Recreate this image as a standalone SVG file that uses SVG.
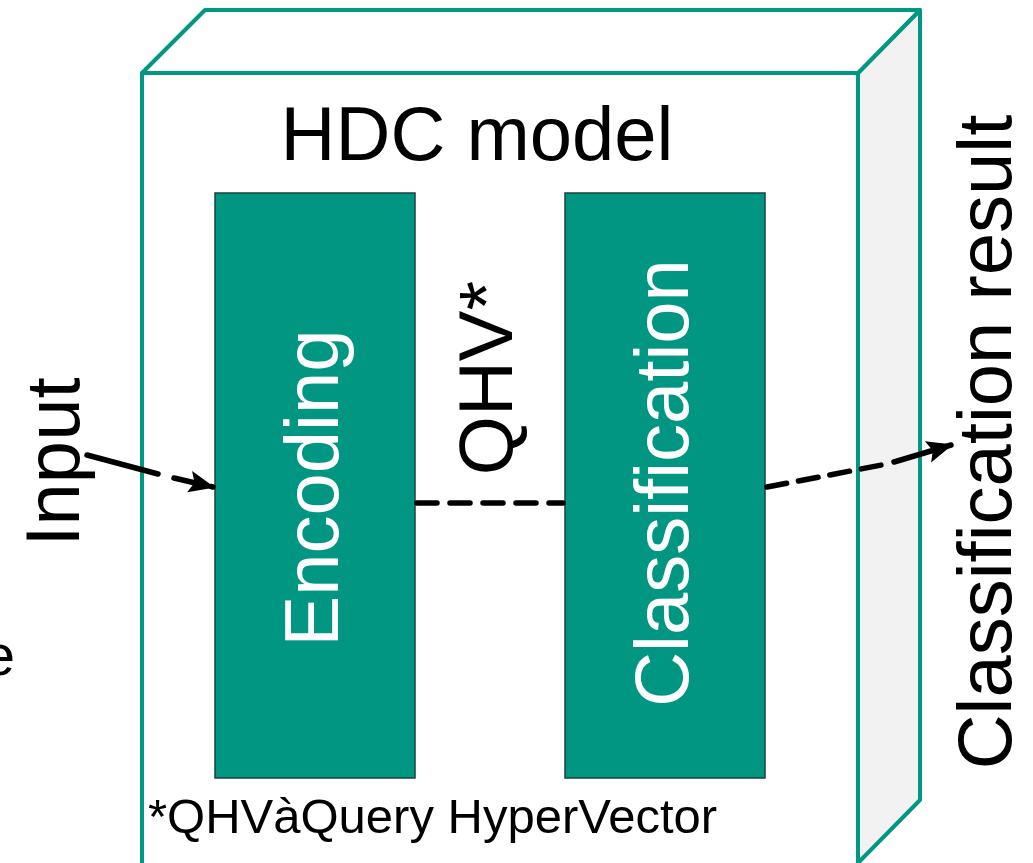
<svg xmlns="http://www.w3.org/2000/svg" width="1033" height="863" viewBox="0 0 1033 863">
<style>
text{font-family:"Liberation Sans",Arial,sans-serif;}
.edge{fill:none;stroke:#009882;stroke-width:4;stroke-linejoin:round;}
.side{fill:#f2f2f2;}
.top{fill:#fff;}
.blk{fill:#009682;stroke:#17433d;stroke-width:1.5;}
.lbl{fill:#000;font-size:76px;}
.wlbl{fill:#fff;font-size:76px;}
.conn{fill:none;stroke:#000;stroke-width:5.5;stroke-linecap:round;}
</style>
<defs>
<marker id="arr" viewBox="0 0 26 26" refX="24" refY="13" markerWidth="26" markerHeight="26" orient="auto" markerUnits="userSpaceOnUse">
<path d="M0,2 L26,13 L0,24 L5,13 Z" fill="#000"/>
</marker>
</defs>
<rect width="1033" height="863" fill="#fff"/>
<g id="hdc-model">
<polygon points="858,73 920,10 920,800 858,863" class="edge" style="fill:#f2f2f2"/>
<polygon points="142,73 205,10 920,10 858,73" class="edge" style="fill:#fff"/>
<polyline points="142,870 142,73 858,73 858,870" class="edge"/>
<text class="lbl" x="477" y="160" text-anchor="middle">HDC model</text>
<text x="148" y="833" font-size="49" fill="#000">*QHVàQuery HyperVector</text>
</g>
<g id="encoding">
<rect class="blk" x="215" y="193" width="200" height="585"/>
<text class="wlbl" text-anchor="middle" transform="translate(338,488) rotate(-90)">Encoding</text>
</g>
<g id="classification">
<rect class="blk" x="565" y="193" width="200" height="585"/>
<text class="wlbl" text-anchor="middle" transform="translate(688,483) rotate(-90)">Classification</text>
</g>
<g id="input">
<text class="lbl" text-anchor="middle" transform="translate(79,462) rotate(-90)">Input</text>
</g>
<g id="qhv">
<text class="lbl" text-anchor="middle" transform="translate(512,378) rotate(-90)">QHV*</text>
</g>
<g id="result">
<text class="lbl" font-size="78" text-anchor="middle" transform="translate(1011,442) rotate(-90)">Classification result</text>
</g>
<g id="partial">
<text x="15" y="675" font-size="58" text-anchor="end" fill="#000">e</text>
</g>
<g id="connectors">
<line class="conn" x1="87" y1="455" x2="158" y2="474"/>
<line class="conn" x1="174" y1="478" x2="213" y2="487" marker-end="url(#arr)" style="stroke-dasharray:22 16"/>
<line class="conn" x1="417" y1="503" x2="563" y2="503" style="stroke-dasharray:20 13"/>
<line class="conn" x1="767" y1="487" x2="892" y2="463" style="stroke-dasharray:20 12"/>
<line class="conn" x1="894" y1="462" x2="951" y2="445" marker-end="url(#arr)"/>
</g>
</svg>
